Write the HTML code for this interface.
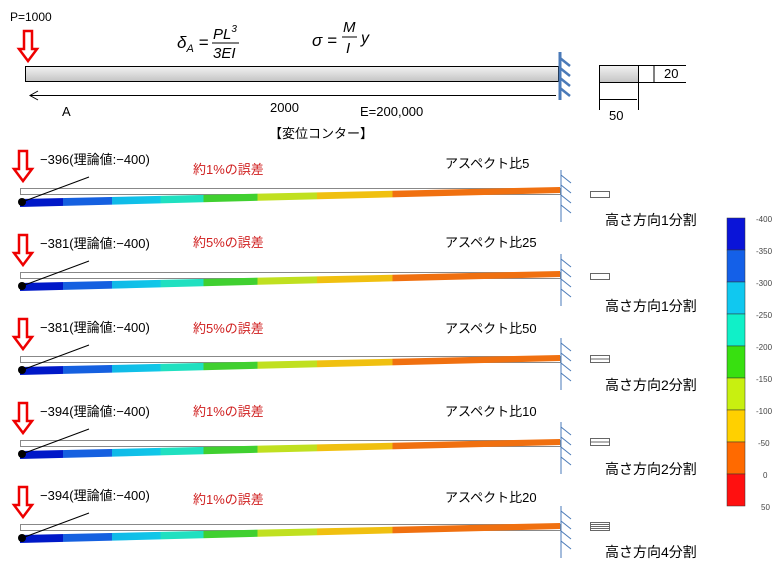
<!DOCTYPE html><html><head><meta charset="utf-8"><style>body{margin:0;background:#fff}svg{display:block}text{font-family:"Liberation Sans","Noto Sans CJK JP",sans-serif}</style></head><body>
<svg width="775" height="569" viewBox="0 0 775 569" xmlns="http://www.w3.org/2000/svg">
<defs>
<linearGradient id="g" x1="0" y1="0" x2="0" y2="1"><stop offset="0" stop-color="#f2f2f2"/><stop offset="1" stop-color="#c4c4c4"/></linearGradient>
<linearGradient id="c" x1="20" x2="560" gradientUnits="userSpaceOnUse">
<stop offset="0" stop-color="#0018c8"/><stop offset=".08" stop-color="#0018c8"/>
<stop offset=".08" stop-color="#1560e0"/><stop offset=".17" stop-color="#1560e0"/>
<stop offset=".17" stop-color="#10b8e8"/><stop offset=".26" stop-color="#10c8e8"/>
<stop offset=".26" stop-color="#20e0c0"/><stop offset=".34" stop-color="#20e0c0"/>
<stop offset=".34" stop-color="#40d030"/><stop offset=".44" stop-color="#40d030"/>
<stop offset=".44" stop-color="#c0e020"/><stop offset=".55" stop-color="#c0e020"/>
<stop offset=".55" stop-color="#f0c010"/><stop offset=".69" stop-color="#f0c010"/>
<stop offset=".69" stop-color="#f07010"/><stop offset="1" stop-color="#f07010"/>
</linearGradient>
<g id="arr"><path d="M5 0h8v18h5l-9 12l-9-12h5z" fill="#fff" stroke="#e00" stroke-width="2.5"/></g>
</defs>
<text x="10" y="21" font-size="12">P=1000</text>
<use href="#arr" x="19" y="31"/>
<text x="177" y="48" font-size="17" font-family="Liberation Serif" font-style="italic">δ<tspan font-size="11" dy="4">A</tspan><tspan dy="-4"> =</tspan></text>
<text x="213" y="39" font-size="15" font-family="Liberation Serif" font-style="italic">PL<tspan font-size="10" dy="-7">3</tspan></text>
<line x1="212" y1="43" x2="239" y2="43" stroke="#000"/>
<text x="213" y="58" font-size="15" font-family="Liberation Serif" font-style="italic">3EI</text>
<text x="312" y="46" font-size="17" font-family="Liberation Serif" font-style="italic">σ =</text>
<text x="343" y="32" font-size="15" font-family="Liberation Serif" font-style="italic">M</text>
<line x1="342" y1="37" x2="357" y2="37" stroke="#000"/>
<text x="346" y="53" font-size="15" font-family="Liberation Serif" font-style="italic">I</text>
<text x="361" y="43" font-size="16" font-family="Liberation Serif" font-style="italic">y</text>
<rect x="25.5" y="66.5" width="533" height="15" fill="url(#g)" stroke="#000"/>
<line x1="30" y1="95.5" x2="556" y2="95.5" stroke="#000"/><path d="M38 91l-8 4.5l8 4.5" fill="none" stroke="#000"/>
<g stroke="#4a7ab8" stroke-width="3"><line x1="560" y1="52" x2="560" y2="100"/><path d="M560 58l10 8M560 68l10 8M560 78l10 8M560 88l10 8" stroke-width="2.5"/></g>
<rect x="599.5" y="65.5" width="39" height="17" fill="url(#g)" stroke="#000"/>
<path d="M638 65.5h48M638 82.5h48M654 66v16M599.5 83v27M638.5 83v27M600 99.5h37" stroke="#000" fill="none"/>
<text x="664" y="78" font-size="13">20</text><text x="609" y="120" font-size="13">50</text>
<text x="62" y="116" font-size="13">A</text><text x="270" y="112" font-size="13">2000</text><text x="360" y="116" font-size="13">E=200,000</text>
<text x="269" y="138" font-size="13">【変位コンター】</text>
<g font-size="13">
<g transform="translate(0,0)"><use href="#arr" x="14" y="151"/><text x="40" y="164">−396(理論値:−400)</text><text x="193" y="174" fill="#d02020">約1%の誤差</text><text x="445" y="168">アスペクト比5</text></g>
<g transform="translate(0,84)"><use href="#arr" x="14" y="151"/><text x="40" y="164">−381(理論値:−400)</text><text x="193" y="163" fill="#d02020">約5%の誤差</text><text x="445" y="163">アスペクト比25</text></g>
<g transform="translate(0,168)"><use href="#arr" x="14" y="151"/><text x="40" y="164">−381(理論値:−400)</text><text x="193" y="165" fill="#d02020">約5%の誤差</text><text x="445" y="165">アスペクト比50</text></g>
<g transform="translate(0,252)"><use href="#arr" x="14" y="151"/><text x="40" y="164">−394(理論値:−400)</text><text x="193" y="164" fill="#d02020">約1%の誤差</text><text x="445" y="164">アスペクト比10</text></g>
<g transform="translate(0,336)"><use href="#arr" x="14" y="151"/><text x="40" y="164">−394(理論値:−400)</text><text x="193" y="168" fill="#d02020">約1%の誤差</text><text x="445" y="166">アスペクト比20</text></g>
</g>
<g id="p">
<rect x="20.5" y="188.5" width="540" height="6" fill="#fff" stroke="#888"/>
<polygon points="20,199 560,187 560,193 20,207" fill="url(#c)"/>
<line x1="22" y1="202" x2="89" y2="177" stroke="#000"/><circle cx="22" cy="202" r="4"/>
<g stroke="#4a7ab8"><line x1="561" y1="170" x2="561" y2="222"/><path d="M561 175l10 8M561 185l10 8M561 195l10 8M561 205l10 8"/></g>
</g>
<use href="#p" y="84"/><use href="#p" y="168"/><use href="#p" y="252"/><use href="#p" y="336"/>
<g fill="#fff" stroke="#666">
<rect x="590.5" y="191.5" width="19" height="6"/><rect x="590.5" y="273.5" width="19" height="6"/>
<rect x="590.5" y="355.5" width="19" height="7"/><line x1="591" y1="359" x2="609" y2="359"/>
<rect x="590.5" y="438.5" width="19" height="7"/><line x1="591" y1="442" x2="609" y2="442"/>
<rect x="590.5" y="522.5" width="19" height="8"/><line x1="591" y1="524.5" x2="609" y2="524.5"/><line x1="591" y1="526.5" x2="609" y2="526.5"/><line x1="591" y1="528.5" x2="609" y2="528.5"/>
</g>
<g font-size="14"><text x="605" y="225">高さ方向1分割</text><text x="605" y="311">高さ方向1分割</text><text x="605" y="390">高さ方向2分割</text><text x="605" y="474">高さ方向2分割</text><text x="605" y="557">高さ方向4分割</text></g>
<g stroke="#333" stroke-width=".5">
<rect x="727" y="218" width="18" height="32" fill="#0a14d8"/><rect x="727" y="250" width="18" height="32" fill="#1460e8"/><rect x="727" y="282" width="18" height="32" fill="#10c8f0"/><rect x="727" y="314" width="18" height="32" fill="#10f0c8"/><rect x="727" y="346" width="18" height="32" fill="#38e010"/><rect x="727" y="378" width="18" height="32" fill="#c8f010"/><rect x="727" y="410" width="18" height="32" fill="#ffd000"/><rect x="727" y="442" width="18" height="32" fill="#ff6a00"/><rect x="727" y="474" width="18" height="32" fill="#ff1010"/>
</g>
<g font-size="8" fill="#444"><text x="756" y="222">-400</text><text x="756" y="254">-350</text><text x="756" y="286">-300</text><text x="756" y="318">-250</text><text x="756" y="350">-200</text><text x="756" y="382">-150</text><text x="756" y="414">-100</text><text x="758" y="446">-50</text><text x="763" y="478">0</text><text x="761" y="510">50</text></g>
</svg></body></html>
